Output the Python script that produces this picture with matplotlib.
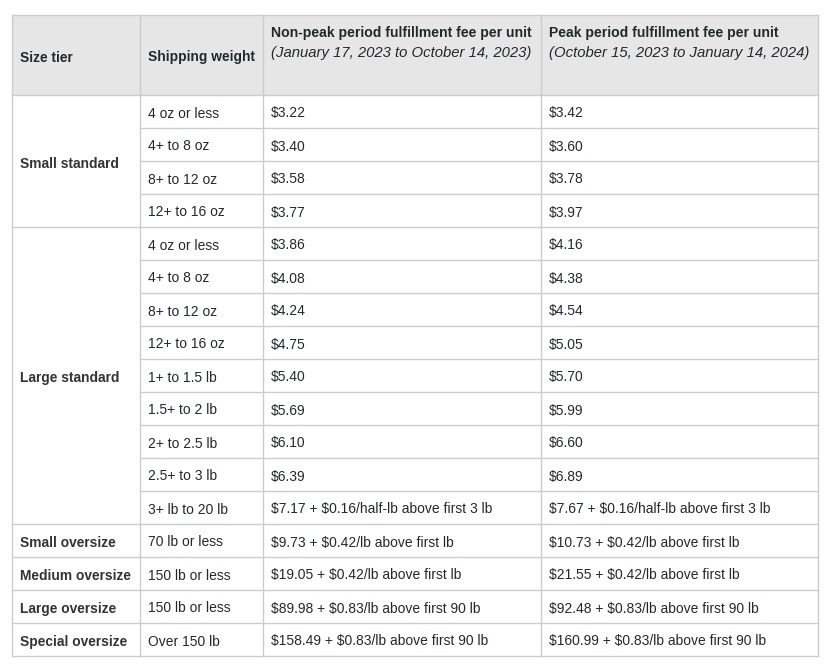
import matplotlib.pyplot as plt

# Table content
header_bold = ['Size tier', 'Shipping weight',
               'Non-peak period fulfillment fee per unit',
               'Peak period fulfillment fee per unit']
header_italic = ['', '',
                 '(January 17, 2023 to October 14, 2023)',
                 '(October 15, 2023 to January 14, 2024)']

tiers = ['Small standard', 'Large standard', 'Small oversize',
         'Medium oversize', 'Large oversize', 'Special oversize']
tier_rows = [4, 9, 1, 1, 1, 1]

weights = ['4 oz or less', '4+ to 8 oz', '8+ to 12 oz', '12+ to 16 oz',
           '4 oz or less', '4+ to 8 oz', '8+ to 12 oz', '12+ to 16 oz',
           '1+ to 1.5 lb', '1.5+ to 2 lb', '2+ to 2.5 lb', '2.5+ to 3 lb',
           '3+ lb to 20 lb', '70 lb or less', '150 lb or less',
           '150 lb or less', 'Over 150 lb']
nonpeak = ['$3.22', '$3.40', '$3.58', '$3.77',
           '$3.86', '$4.08', '$4.24', '$4.75', '$5.40', '$5.69', '$6.10', '$6.39',
           '$7.17 + $0.16/half-lb above first 3 lb',
           '$9.73 + $0.42/lb above first lb',
           '$19.05 + $0.42/lb above first lb',
           '$89.98 + $0.83/lb above first 90 lb',
           '$158.49 + $0.83/lb above first 90 lb']
peak = ['$3.42', '$3.60', '$3.78', '$3.97',
        '$4.16', '$4.38', '$4.54', '$5.05', '$5.70', '$5.99', '$6.60', '$6.89',
        '$7.67 + $0.16/half-lb above first 3 lb',
        '$10.73 + $0.42/lb above first lb',
        '$21.55 + $0.42/lb above first lb',
        '$92.48 + $0.83/lb above first 90 lb',
        '$160.99 + $0.83/lb above first 90 lb']

# Layout (pixels)
W, H = 835, 670
col_x = [12, 140, 263, 541, 818]
top, head_bot, row_h = 15, 95, 33
pad = 8
border = '#cccccc'
head_bg = '#e6e6e6'
text_c = '#1f2a30'
tier_c = '#333333'

plt.rcParams['font.family'] = ['Liberation Sans', 'DejaVu Sans']
plt.rcParams['text.parse_math'] = False

fig = plt.figure(figsize=(W / 100, H / 100), dpi=100)
ax = fig.add_axes([0, 0, 1, 1])
ax.set_xlim(0, W)
ax.set_ylim(H, 0)
ax.axis('off')

n = len(weights)
bottom = head_bot + n * row_h

# header background
ax.add_patch(plt.Rectangle((col_x[0], top), col_x[-1] - col_x[0], head_bot - top,
                           facecolor=head_bg, edgecolor='none', zorder=0))

# header text
for i in range(4):
    x = col_x[i] + pad
    if header_italic[i]:
        ax.text(x, 32, header_bold[i], fontsize=10.1, fontweight='bold',
                color=text_c, va='center_baseline', ha='left')
        ax.text(x, 51, header_italic[i], fontsize=10.7, style='italic',
                color=text_c, va='center_baseline', ha='left')
    else:
        ax.text(x, (top + head_bot) / 2 + 1, header_bold[i], fontsize=9.9,
                fontweight='bold', color=text_c, va='center_baseline', ha='left')

# body rows
for r in range(n):
    yc = head_bot + r * row_h + row_h / 2 + 0.5
    ax.text(col_x[1] + pad, yc, weights[r], fontsize=10, color=text_c, va='center_baseline')
    ax.text(col_x[2] + pad, yc, nonpeak[r], fontsize=10, color=text_c, va='center_baseline')
    ax.text(col_x[3] + pad, yc, peak[r], fontsize=10, color=text_c, va='center_baseline')

# horizontal lines for columns 1-3
for r in range(n + 1):
    y = head_bot + r * row_h
    ax.plot([col_x[1], col_x[-1]], [y, y], color=border, lw=1, zorder=2)

# tier labels and group lines in first column
start = 0
ax.plot([col_x[0], col_x[1]], [head_bot, head_bot], color=border, lw=1, zorder=2)
for tier, k in zip(tiers, tier_rows):
    y0 = head_bot + start * row_h
    y1 = head_bot + (start + k) * row_h
    ax.text(col_x[0] + pad, (y0 + y1) / 2 + 1, tier, fontsize=9.9, fontweight='bold',
            color=tier_c, va='center_baseline')
    ax.plot([col_x[0], col_x[1]], [y1, y1], color=border, lw=1, zorder=2)
    start += k

# outer border and vertical lines
ax.plot([col_x[0], col_x[-1]], [top, top], color=border, lw=1, zorder=2)
for x in col_x:
    ax.plot([x, x], [top, bottom], color=border, lw=1, zorder=2)

fig.savefig('out.png', dpi=100, facecolor='white')
